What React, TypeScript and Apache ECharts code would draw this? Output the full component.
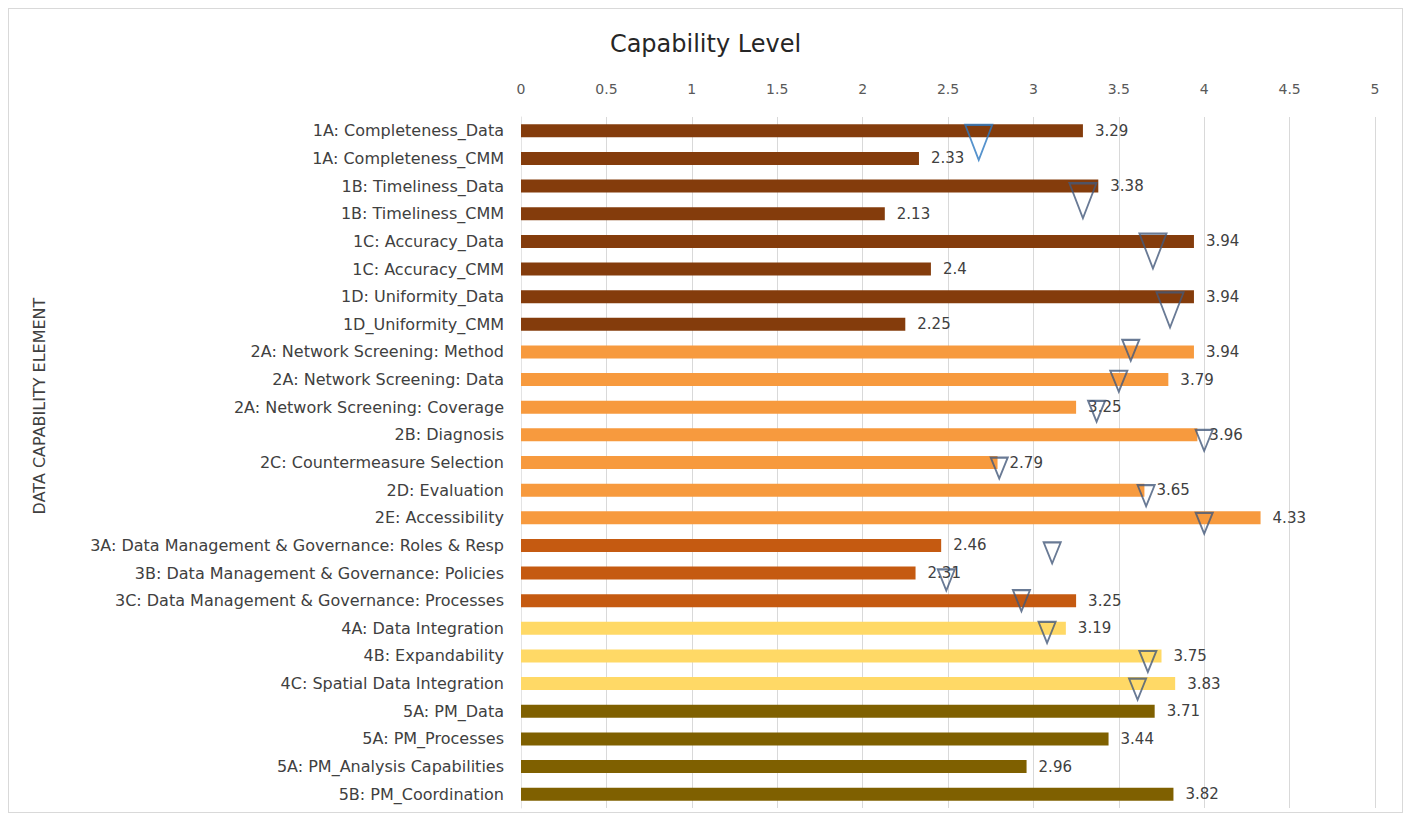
import React, { useEffect, useRef } from "react";
import * as echarts from "echarts";

const categories = [
  "1A: Completeness_Data",
  "1A: Completeness_CMM",
  "1B: Timeliness_Data",
  "1B: Timeliness_CMM",
  "1C: Accuracy_Data",
  "1C: Accuracy_CMM",
  "1D: Uniformity_Data",
  "1D_Uniformity_CMM",
  "2A: Network Screening: Method",
  "2A: Network Screening: Data",
  "2A: Network Screening: Coverage",
  "2B: Diagnosis",
  "2C: Countermeasure Selection",
  "2D: Evaluation",
  "2E: Accessibility",
  "3A: Data Management & Governance: Roles & Resp",
  "3B: Data Management & Governance: Policies",
  "3C: Data Management & Governance: Processes",
  "4A: Data Integration",
  "4B: Expandability",
  "4C: Spatial Data Integration",
  "5A: PM_Data",
  "5A: PM_Processes",
  "5A: PM_Analysis Capabilities",
  "5B: PM_Coordination",
];

const capabilityValues = [
  3.29, 2.33, 3.38, 2.13, 3.94, 2.4, 3.94, 2.25, 3.94, 3.79, 3.25, 3.96, 2.79,
  3.65, 4.33, 2.46, 2.31, 3.25, 3.19, 3.75, 3.83, 3.71, 3.44, 2.96, 3.82,
];

// Target markers: x = level, y = row position (row index, fractional between rows)
const targetX = [
  2.68, 3.29, 3.7, 3.8, 3.57, 3.5, 3.37, 4.0, 2.8, 3.66, 4.0, 3.11, 2.49, 2.93,
  3.08, 3.67, 3.61,
];
const targetRow = [
  0.42, 2.53, 4.35, 6.48, 7.94, 9.06, 10.15, 11.2, 12.2, 13.2, 14.2, 15.27,
  16.25, 17.0, 18.15, 19.2, 20.2,
];

const xTicks = { min: 0, max: 5, interval: 0.5 };

const groupColors: Record<string, string> = {
  "1": "#843C0C",
  "2": "#F79A3E",
  "3": "#C55A11",
  "4": "#FFD966",
  "5": "#7F6000",
};

export default function App() {
  const ref = useRef<HTMLDivElement>(null);

  useEffect(() => {
    if (!ref.current) return;
    const chart = echarts.init(ref.current, null, { renderer: "svg" });
    const font = "DejaVu Sans";

    const barData = capabilityValues.map((v, i) => ({
      value: v,
      itemStyle: { color: groupColors[categories[i].charAt(0)] },
    }));

    const scatterData = targetX.map((x, i) => {
      const big = i < 4;
      return {
        value: [x, targetRow[i]],
        symbolSize: big ? [27, 35] : [17, 21],
        itemStyle: {
          borderColor: i === 0 ? "#2C78C0" : "#44597A",
        },
      };
    });

    chart.setOption({
      animation: false,
      backgroundColor: "#ffffff",
      textStyle: { fontFamily: font },
      title: {
        text: "Capability Level",
        left: "center",
        top: 18,
        textStyle: {
          fontFamily: font,
          fontSize: 24,
          fontWeight: "normal",
          color: "#262626",
        },
      },
      grid: { left: 512, right: 27, top: 108, bottom: 4 },
      xAxis: {
        type: "value",
        position: "top",
        min: xTicks.min,
        max: xTicks.max,
        interval: xTicks.interval,
        axisLine: { show: false },
        axisTick: { show: false },
        axisLabel: {
          color: "#595959",
          fontSize: 14,
          fontFamily: font,
          margin: 21,
        },
        splitLine: { show: true, lineStyle: { color: "#d9d9d9", width: 1 } },
      },
      yAxis: [
        {
          type: "category",
          data: categories,
          inverse: true,
          boundaryGap: true,
          axisLine: { show: true, lineStyle: { color: "#e3e3e3" } },
          axisTick: { show: false },
          axisLabel: {
            color: "#404040",
            fontSize: 16,
            fontFamily: font,
            margin: 17,
          },
        },
        {
          type: "value",
          min: -0.5,
          max: 24.5,
          inverse: true,
          show: false,
        },
      ],
      graphic: [
        {
          type: "text",
          x: 30,
          y: 397,
          rotation: Math.PI / 2,
          style: {
            text: "DATA CAPABILITY ELEMENT",
            fill: "#404040",
            fontSize: 16,
            fontFamily: font,
            align: "center",
            verticalAlign: "middle",
          },
        },
      ],
      series: [
        {
          type: "bar",
          data: barData,
          barWidth: 13,
          label: {
            show: true,
            position: "right",
            distance: 12,
            color: "#404040",
            fontSize: 15,
            fontFamily: font,
          },
        },
        {
          type: "scatter",
          xAxisIndex: 0,
          yAxisIndex: 1,
          symbol: "triangle",
          symbolRotate: 180,
          data: scatterData,
          itemStyle: {
            color: "rgba(0,0,0,0)",
            borderWidth: 2,
          },
          z: 5,
        },
      ],
    });

    return () => chart.dispose();
  }, []);

  return (
    <div
      ref={ref}
      style={{
        width: 1395,
        height: 805,
        border: "1px solid #d9d9d9",
        boxSizing: "border-box",
      }}
    />
  );
}
